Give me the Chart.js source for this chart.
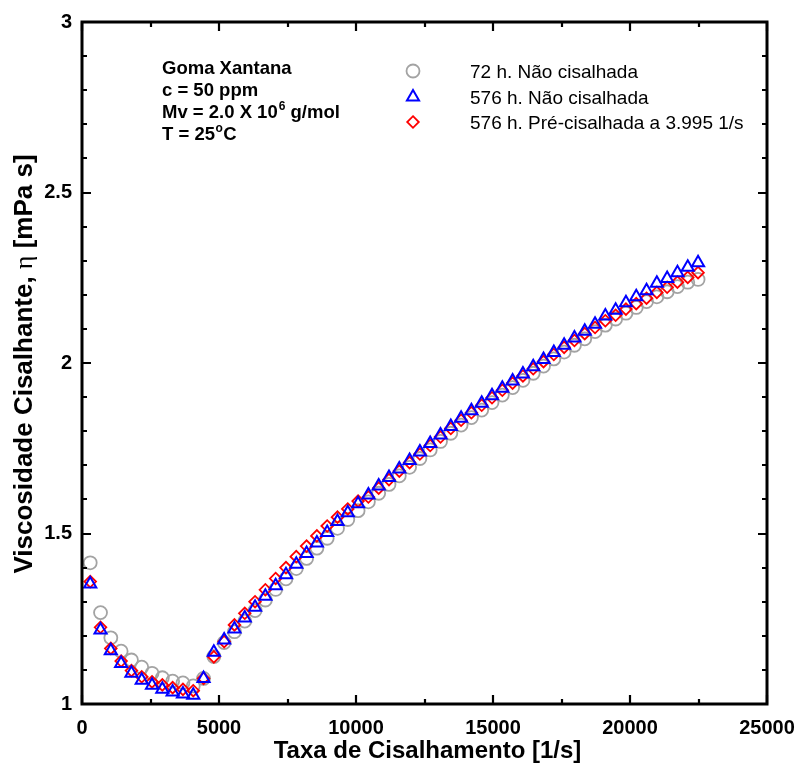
<!DOCTYPE html>
<html>
<head>
<meta charset="utf-8">
<script src="https://cdn.jsdelivr.net/npm/chart.js@4/dist/chart.umd.min.js"></script>
<style>
  html, body { margin: 0; padding: 0; background: #ffffff; }
  #wrap { width: 798px; height: 765px; position: relative; }
</style>
</head>
<body>
<div id="wrap"><canvas id="chart" width="798" height="765"></canvas></div>
<script>
// Shear rate [1/s] for every measured point (shared by all three runs)
const shearRate = [
  300, 676, 1052, 1428, 1804, 2180, 2556, 2932, 3308, 3684,
  4060, 4436, 4812, 5188, 5564, 5940, 6316, 6692, 7068, 7444,
  7820, 8196, 8572, 8948, 9324, 9700, 10076, 10452, 10828, 11204,
  11580, 11956, 12332, 12708, 13084, 13460, 13836, 14212, 14588, 14964,
  15340, 15716, 16092, 16468, 16844, 17220, 17596, 17972, 18348, 18724,
  19100, 19476, 19852, 20228, 20604, 20980, 21356, 21732, 22108, 22484
];

// Shear viscosity [mPa s], 72 h, not sheared
const eta72h = [
  1.414, 1.268, 1.194, 1.155, 1.129, 1.108, 1.090, 1.077, 1.067, 1.062,
  1.053, 1.075, 1.139, 1.180, 1.212, 1.243, 1.274, 1.305, 1.336, 1.367,
  1.397, 1.427, 1.457, 1.486, 1.515, 1.541, 1.567, 1.593, 1.618, 1.644,
  1.669, 1.694, 1.720, 1.745, 1.770, 1.794, 1.818, 1.840, 1.862, 1.884,
  1.906, 1.928, 1.949, 1.970, 1.991, 2.012, 2.032, 2.052, 2.071, 2.092,
  2.111, 2.129, 2.146, 2.163, 2.180, 2.194, 2.209, 2.224, 2.237, 2.245
];

// Shear viscosity [mPa s], 576 h, not sheared
const eta576h = [
  1.352, 1.217, 1.156, 1.119, 1.090, 1.070, 1.055, 1.043, 1.035, 1.029,
  1.026, 1.075, 1.152, 1.188, 1.220, 1.252, 1.284, 1.316, 1.347, 1.379,
  1.410, 1.441, 1.472, 1.503, 1.535, 1.561, 1.587, 1.613, 1.639, 1.664,
  1.689, 1.714, 1.739, 1.764, 1.789, 1.814, 1.838, 1.860, 1.882, 1.904,
  1.926, 1.947, 1.968, 1.989, 2.010, 2.031, 2.052, 2.073, 2.093, 2.114,
  2.138, 2.155, 2.177, 2.194, 2.212, 2.234, 2.248, 2.265, 2.281, 2.294
];

// Shear viscosity [mPa s], 576 h, pre-sheared at 3.995 1/s
const eta576hPre = [
  1.359, 1.225, 1.163, 1.126, 1.098, 1.080, 1.065, 1.056, 1.048, 1.043,
  1.039, 1.075, 1.138, 1.183, 1.232, 1.266, 1.300, 1.335, 1.368, 1.400,
  1.432, 1.463, 1.493, 1.522, 1.548, 1.572, 1.595, 1.607, 1.633, 1.658,
  1.683, 1.708, 1.733, 1.758, 1.783, 1.808, 1.832, 1.854, 1.876, 1.898,
  1.920, 1.941, 1.962, 1.983, 2.004, 2.025, 2.046, 2.066, 2.086, 2.104,
  2.124, 2.140, 2.158, 2.174, 2.190, 2.207, 2.222, 2.237, 2.251, 2.265
];

const seriesLabels = [
  '72 h. Não cisalhada',
  '576 h. Não cisalhada',
  '576 h. Pré-cisalhada a 3.995 1/s'
];

const xTickValues = [0, 5000, 10000, 15000, 20000, 25000];
const yTickValues = [1, 1.5, 2, 2.5, 3];

const xTitle = 'Taxa de Cisalhamento [1/s]';
const yTitleParts = ['Viscosidade Cisalhante, ', 'η', ' [mPa s]'];

const FONT = '"Liberation Sans", Arial, Helvetica, sans-serif';

const toPoints = ys => shearRate.map((x, i) => ({ x: x, y: ys[i] }));

const styles = [
  { pointStyle: 'circle',   radius: 6.5, color: '#a3a3a3', width: 1.8, order: 3 },
  { pointStyle: 'triangle', radius: 7,   color: '#0000ff', width: 2,   order: 1 },
  { pointStyle: 'rectRot',  radius: 5.8, color: '#ff0000', width: 1.8, order: 2 }
];
const seriesValues = [eta72h, eta576h, eta576hPre];

const datasets = seriesValues.map((vals, k) => ({
  label: seriesLabels[k],
  data: toPoints(vals),
  showLine: false,
  pointStyle: styles[k].pointStyle,
  pointRadius: styles[k].radius,
  pointHoverRadius: styles[k].radius,
  pointBorderWidth: styles[k].width,
  pointBorderColor: styles[k].color,
  pointBackgroundColor: 'rgba(0,0,0,0)',
  order: styles[k].order
}));

// marker shapes for the hand-placed key, same geometry as the chart points
function drawMarker(ctx, st, x, y) {
  const r = st.radius;
  ctx.save();
  ctx.strokeStyle = st.color;
  ctx.lineWidth = st.width;
  ctx.beginPath();
  if (st.pointStyle === 'circle') {
    ctx.arc(x, y, r, 0, Math.PI * 2);
  } else if (st.pointStyle === 'triangle') {
    for (let j = 0; j < 3; j++) {
      const a = j * 2 * Math.PI / 3;
      const px = x + Math.sin(a) * r, py = y - Math.cos(a) * r;
      if (j === 0) ctx.moveTo(px, py); else ctx.lineTo(px, py);
    }
    ctx.closePath();
  } else {
    ctx.moveTo(x, y - r); ctx.lineTo(x + r, y); ctx.lineTo(x, y + r); ctx.lineTo(x - r, y);
    ctx.closePath();
  }
  ctx.stroke();
  ctx.restore();
}

const decorations = {
  id: 'decorations',
  afterDraw(chart) {
    const ctx = chart.ctx;
    const ca = chart.chartArea;
    const xs = chart.scales.x, ys = chart.scales.y;
    ctx.save();

    // axis frame
    ctx.strokeStyle = '#000';
    ctx.lineWidth = 3;
    ctx.strokeRect(ca.left, ca.top, ca.right - ca.left, ca.bottom - ca.top);

    // inward tick marks on all four sides
    ctx.lineWidth = 2.2;
    ctx.beginPath();
    for (let k = 0; k <= 10; k++) {
      const v = k * 2500;
      const px = Math.round(xs.getPixelForValue(v));
      const len = (k % 2 === 0) ? 9 : 5;
      ctx.moveTo(px, ca.bottom); ctx.lineTo(px, ca.bottom - len);
      ctx.moveTo(px, ca.top); ctx.lineTo(px, ca.top + len);
    }
    for (let k = 0; k <= 20; k++) {
      const v = 1 + k * 0.1;
      const py = Math.round(ys.getPixelForValue(v));
      const len = (k % 5 === 0) ? 9 : 5;
      ctx.moveTo(ca.left, py); ctx.lineTo(ca.left + len, py);
      ctx.moveTo(ca.right, py); ctx.lineTo(ca.right - len, py);
    }
    ctx.stroke();

    // sample description
    ctx.fillStyle = '#000';
    ctx.textAlign = 'left';
    ctx.textBaseline = 'alphabetic';
    const big = 'bold 18.5px ' + FONT, small = 'bold 12px ' + FONT;
    const tx = 162;
    ctx.font = big;
    ctx.fillText('Goma Xantana', tx, 74);
    ctx.fillText('c = 50 ppm', tx, 96);
    let s = 'Mv = 2.0 X 10';
    ctx.fillText(s, tx, 118);
    let w = ctx.measureText(s).width;
    ctx.font = small;
    ctx.fillText('6', tx + w + 1, 110);
    let w6 = ctx.measureText('6').width;
    ctx.font = big;
    ctx.fillText(' g/mol', tx + w + 1 + w6, 118);
    s = 'T = 25';
    ctx.fillText(s, tx, 140);
    w = ctx.measureText(s).width;
    ctx.font = small;
    ctx.fillText('o', tx + w + 0.5, 132);
    const wo = ctx.measureText('o').width;
    ctx.font = big;
    ctx.fillText('C', tx + w + 1 + wo, 140);

    // key
    const rowsY = [71, 97, 122];
    ctx.font = '19px ' + FONT;
    seriesLabels.forEach((lab, k) => {
      drawMarker(ctx, styles[k], 413, rowsY[k]);
      ctx.fillStyle = '#000';
      ctx.fillText(lab, 470, rowsY[k] + 7);
    });

    // x-axis title
    ctx.font = 'bold 24px ' + FONT;
    ctx.textAlign = 'center';
    ctx.fillText(xTitle, (ca.left + ca.right) / 2 + 3, 758);

    // y-axis title, rotated, with a plain Greek eta
    ctx.save();
    ctx.translate(32, 364);
    ctx.rotate(-Math.PI / 2);
    const fonts = ['bold 26px ' + FONT, '26px "Liberation Serif", "DejaVu Serif", serif', 'bold 26px ' + FONT];
    const widths = yTitleParts.map((p, k) => { ctx.font = fonts[k]; return ctx.measureText(p).width; });
    let cx = -widths.reduce((a, b) => a + b, 0) / 2;
    ctx.textAlign = 'left';
    yTitleParts.forEach((p, k) => {
      ctx.font = fonts[k];
      ctx.fillText(p, cx, 0);
      cx += widths[k];
    });
    ctx.restore();

    ctx.restore();
  }
};

new Chart(document.getElementById('chart'), {
  type: 'scatter',
  data: { datasets: datasets },
  options: {
    responsive: false,
    animation: false,
    devicePixelRatio: 1,
    events: [],
    layout: { padding: { left: 0, right: 31, top: 22, bottom: 0 } },
    plugins: { legend: { display: false }, tooltip: { enabled: false } },
    scales: {
      x: {
        type: 'linear',
        min: 0, max: 25000,
        grid: { display: false },
        border: { display: false },
        afterBuildTicks: s => { s.ticks = xTickValues.map(v => ({ value: v })); },
        afterFit: s => { s.height = 61; s.paddingLeft = 0; s.paddingRight = 0; },
        ticks: {
          color: '#000',
          padding: 4,
          maxRotation: 0,
          autoSkip: false,
          font: { family: FONT, size: 20, weight: 'bold' },
          callback: v => String(v)
        }
      },
      y: {
        type: 'linear',
        min: 1, max: 3,
        grid: { display: false },
        border: { display: false },
        afterBuildTicks: s => { s.ticks = yTickValues.map(v => ({ value: v })); },
        afterFit: s => { s.width = 82; s.paddingTop = 0; s.paddingBottom = 0; },
        ticks: {
          color: '#000',
          padding: 2,
          autoSkip: false,
          font: { family: FONT, size: 20, weight: 'bold' },
          callback: v => String(v)
        }
      }
    }
  },
  plugins: [decorations]
});
</script>
</body>
</html>
